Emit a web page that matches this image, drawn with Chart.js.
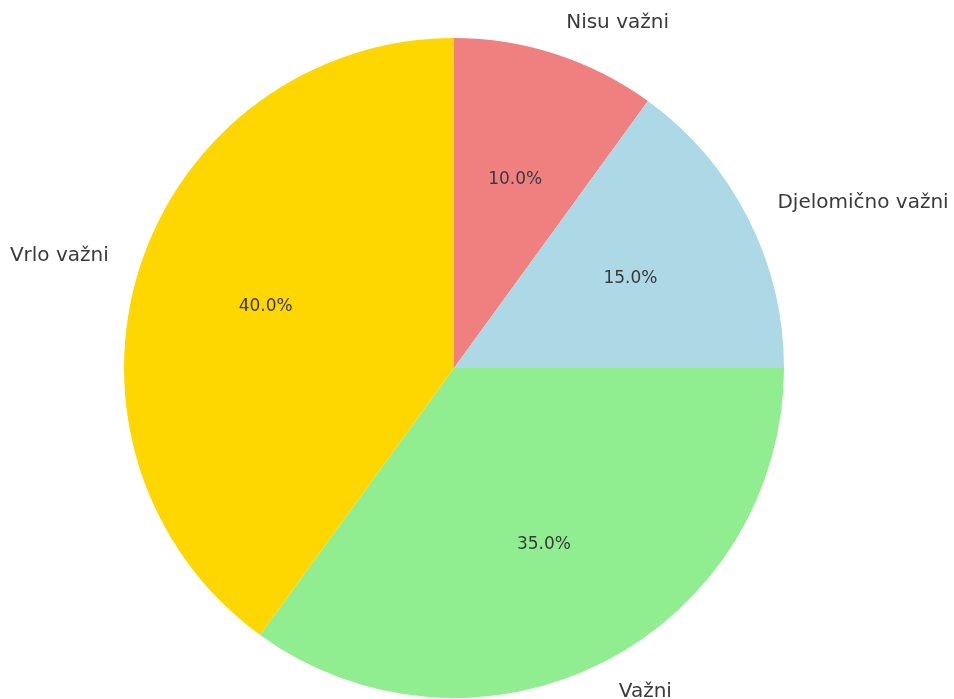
<!DOCTYPE html>
<html lang="hr">
<head>
  <meta charset="UTF-8">
  <title>Važnost</title>
  <script src="https://cdn.jsdelivr.net/npm/chart.js"></script>
  <style>
    html, body {
      margin: 0;
      padding: 0;
      background: #ffffff;
    }
    .wrap {
      width: 954px;
      height: 699px;
    }
  </style>
</head>
<body>
  <div class="wrap">
    <canvas id="pieChart" width="954" height="699"></canvas>
  </div>

  <script>
    const labels = ['Nisu važni', 'Djelomično važni', 'Važni', 'Vrlo važni'];
    const values = [10, 15, 35, 40];
    const colors = ['#F08080', '#ADD8E6', '#90EE90', '#FFD700'];

    // crta nazive izvan kruga i postotke unutar isječaka
    const pieText = {
      id: 'pieText',
      afterDatasetsDraw(chart) {
        const ctx = chart.ctx;
        const arcs = chart.getDatasetMeta(0).data;
        const total = values.reduce((a, b) => a + b, 0);
        ctx.save();
        ctx.fillStyle = '#3a3a3a';
        ctx.textBaseline = 'middle';
        arcs.forEach((arc, i) => {
          const mid = (arc.startAngle + arc.endAngle) / 2;
          const r = arc.outerRadius;
          const cos = Math.cos(mid), sin = Math.sin(mid);

          ctx.font = '20px "DejaVu Sans"';
          ctx.textAlign = cos >= 0 ? 'left' : 'right';
          ctx.fillText(labels[i], arc.x + cos * r * 1.1, arc.y + sin * r * 1.1);

          ctx.font = '17px "DejaVu Sans"';
          ctx.textAlign = 'center';
          const pct = (values[i] / total * 100).toFixed(1) + '%';
          ctx.fillText(pct, arc.x + cos * r * 0.6, arc.y + sin * r * 0.6);
        });
        ctx.restore();
      }
    };

    new Chart(document.getElementById('pieChart'), {
      type: 'pie',
      data: {
        labels: labels,
        datasets: [{
          data: values,
          backgroundColor: colors,
          borderWidth: 0
        }]
      },
      options: {
        responsive: false,
        animation: false,
        layout: {
          padding: { top: 38, bottom: 1, left: 124, right: 170 }
        },
        plugins: {
          legend: { display: false },
          tooltip: { enabled: false }
        }
      },
      plugins: [pieText]
    });
  </script>
</body>
</html>
